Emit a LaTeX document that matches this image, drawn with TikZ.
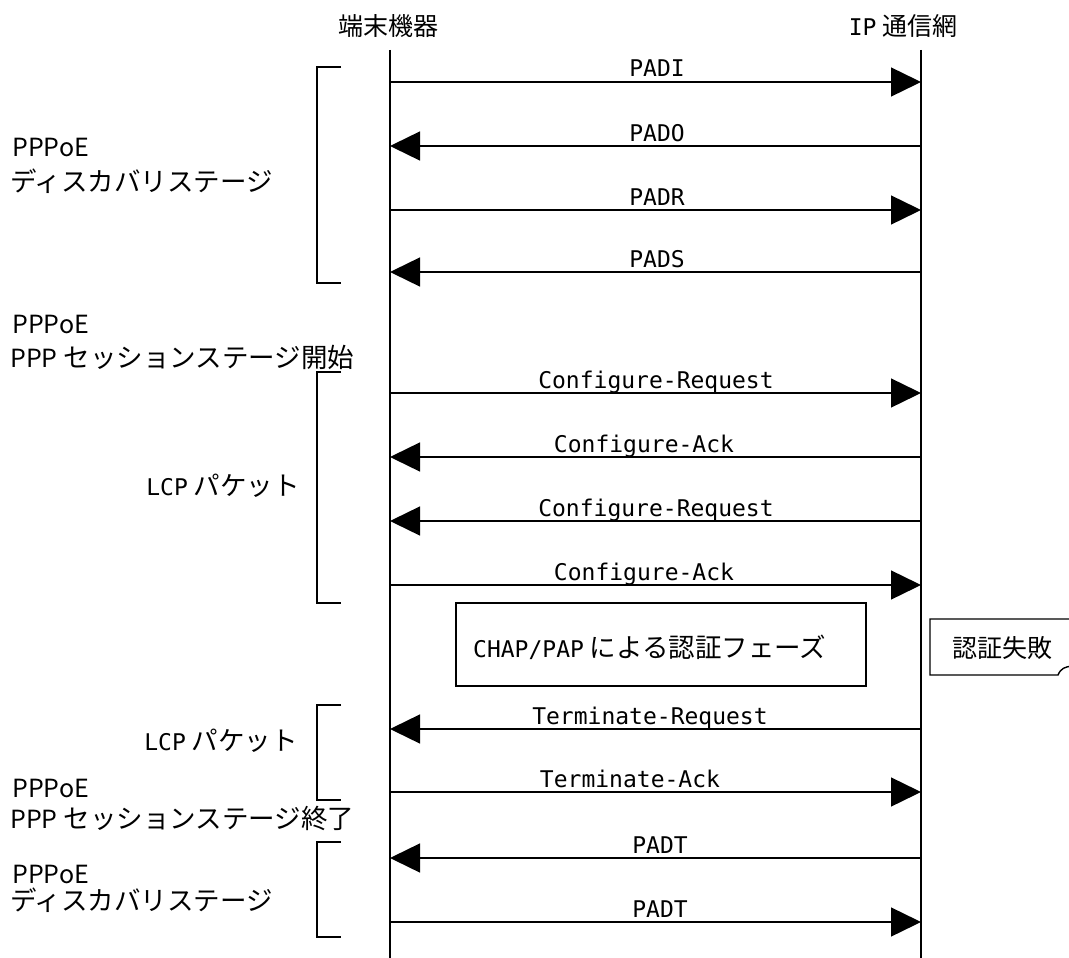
\documentclass[tikz,border=0pt]{standalone}
\usepackage{fontspec}
\setmainfont{Noto Sans CJK JP}
\newfontfamily\monofnt{DejaVu Sans Mono}
\usetikzlibrary{arrows.meta}
\newcommand{\mtxt}[1]{{\monofnt\fontsize{23}{26}\selectfont #1}}
\tikzset{
  msgarrow/.style={line width=1.4pt, -{Triangle[length=30pt,width=29pt]}},
  lifeline/.style={line width=1.4pt},
  bracketline/.style={line width=1.4pt},
  msglabel/.style={inner sep=0pt, anchor=base, font=\monofnt\fontsize{23}{26}\selectfont},
  jptext/.style={inner sep=0pt, font=\fontsize{25}{29}\selectfont},
  jpbig/.style={inner sep=0pt, font=\fontsize{26.5}{30}\selectfont},
  boxline/.style={draw, line width=1.4pt}
}
\begin{document}
\begin{tikzpicture}[x=1pt,y=-1pt]
\useasboundingbox (0,0) rectangle (1069,958);

% headers
\node[jptext, anchor=base] (hL) at (388,36) {端末機器};
\node[jptext, anchor=base] (hR) at (903,36) {\mtxt{IP} 通信網};

% lifelines
\coordinate (LT) at (390,50); \coordinate (LB) at (390,958);
\coordinate (RT) at (921,50); \coordinate (RB) at (921,958);
\draw[lifeline] (LT) -- (LB);
\draw[lifeline] (RT) -- (RB);

% messages
\foreach \yy/\mdir/\txt/\cx [count=\i] in {
  82/r/PADI/657, 146/l/PADO/657, 210/r/PADR/657, 272/l/PADS/657,
  393/r/Configure-Request/656, 457/l/Configure-Ack/644,
  521/l/Configure-Request/656, 585/r/Configure-Ack/644,
  729/l/Terminate-Request/650, 792/r/Terminate-Ack/630,
  858/l/PADT/660, 922/r/PADT/660} {
  \coordinate (mL\i) at (390,\yy);
  \coordinate (mR\i) at (921,\yy);
  \node[msglabel] (t\i) at (\cx,\yy-5) {\txt};
  \if\mdir r
    \draw[msgarrow] (mL\i) -- (mR\i);
  \else
    \draw[msgarrow] (mR\i) -- (mL\i);
  \fi
}

% brackets
\foreach \ta/\tb [count=\j] in {67/283, 372/603, 705/800, 842/937} {
  \coordinate (bA\j) at (341,\ta);
  \coordinate (bB\j) at (341,\tb);
  \draw[bracketline] (bA\j) -- (317,\ta) -- (317,\tb) -- (bB\j);
}

% left labels
\node[jptext, anchor=base west] (g1a) at (12,157) {PPPoE};
\node[jpbig, anchor=base west] (g1b) at (10,191) {ディスカバリステージ};
\node[jptext, anchor=base west] (g2a) at (12,333) {PPPoE};
\node[jpbig, anchor=base west] (g2b) at (10,367) {{\fontsize{25}{29}\selectfont PPP} セッションステージ開始};
\node[jpbig, anchor=base east] (lcp1) at (300,495) {\mtxt{LCP} パケット};
\node[jpbig, anchor=base east] (lcp2) at (298,750) {\mtxt{LCP} パケット};
\node[jptext, anchor=base west] (g3a) at (12,797) {PPPoE};
\node[jpbig, anchor=base west] (g3b) at (10,828) {{\fontsize{25}{29}\selectfont PPP} セッションステージ終了};
\node[jptext, anchor=base west] (g4a) at (12,883) {PPPoE};
\node[jpbig, anchor=base west] (g4b) at (10,910) {ディスカバリステージ};

% authentication phase box
\node[boxline, minimum width=410pt, minimum height=83pt, inner sep=0pt] (chap) at (661,644.5) {};
\node[jpbig, anchor=base west] (chapt) at (473,657) {\mtxt{CHAP/PAP} による認証フェーズ};

% failure note
\coordinate (nTR) at (1075,619);
\coordinate (nTL) at (930,619);
\coordinate (nBL) at (930,675);
\coordinate (nBR) at (1058,675);
\coordinate (nC) at (1072,666);
\draw[line width=1.4pt] (nTR) -- (nTL) -- (nBL) -- (nBR) .. controls (1061,668) and (1065,667) .. (nC);
\node[jptext, anchor=base] (fail) at (1002,657) {認証失敗};
\end{tikzpicture}
\end{document}
